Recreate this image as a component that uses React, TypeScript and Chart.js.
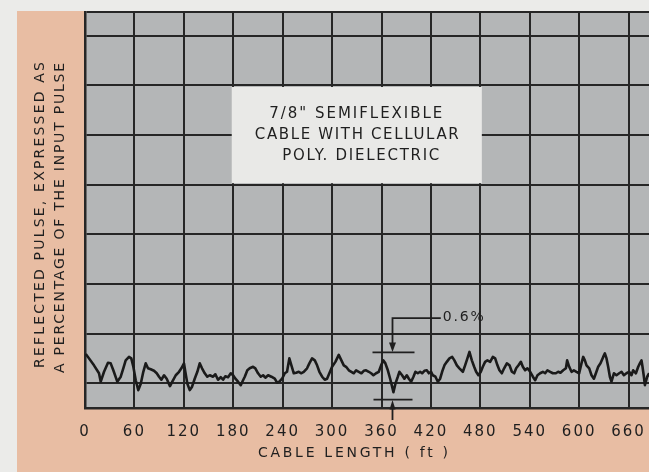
import React, { useEffect, useRef } from "react";
import { Chart, registerables } from "chart.js";

Chart.register(...registerables);

// ---- data ----
const xTickValues = [0, 60, 120, 180, 240, 300, 360, 420, 480, 540, 600, 660];
const yGridDivisions = [0, 1, 2, 3, 4, 5, 6, 7];

// cable length (ft) of each trace sample
const cableLengthFt = [
  0.9, 10.9, 17.0, 19.1, 23.1, 27.9, 31.2, 34.4, 39.2, 43.4, 46.5, 49.4, 53.4, 56.2, 58.7, 61.6, 64.7, 67.7, 70.8, 73.7,
  76.5, 79.8, 83.8, 87.1, 89.9, 92.7, 96.0, 99.2, 103.2, 106.0, 110.2, 114.2,
  117.0, 120.2, 121.8, 124.3, 127.2, 130.0, 133.2, 136.4, 139.3, 142.1, 145.4, 148.5, 151.5, 155.5, 158.3, 161.5, 164.8,
  167.6, 170.4, 173.7, 177.0, 179.8, 182.6, 185.8, 189.1, 191.9, 194.0, 197.1, 200.0, 204.1, 206.8, 210.1, 213.4, 216.2,
  219.0, 222.3, 226.3,
  230.4, 233.2, 236.0, 239.3, 242.6, 245.3, 248.1, 250.6, 253.5, 256.3, 259.6, 262.7, 265.6, 269.6, 272.4, 275.7, 279.0,
  281.8, 284.6, 287.9, 291.1, 293.9, 296.7, 300.0, 304.0, 308.1, 311.3, 314.2, 317.0, 320.3, 323.4, 326.4, 329.2, 332.4,
  335.6, 338.5,
  341.3, 344.6, 347.4, 350.2, 353.4, 356.7, 359.5, 362.3, 364.7, 367.7, 370.5, 372.9, 374.5, 376.9, 379.8, 381.7, 385.0,
  387.8, 390.7, 393.2, 396.0, 398.8, 401.2, 404.1, 406.9, 409.3, 412.1, 415.0, 417.5, 420.2, 422.3, 425.5, 428.4, 431.2,
  433.6, 436.4, 439.3, 442.5, 445.8, 448.5, 451.5, 454.6,
  458.8, 461.5, 464.3, 466.8, 469.7, 472.5, 474.9, 477.7, 480.6, 483.0, 485.8, 488.6, 491.9, 495.2, 498.0, 500.8, 503.2,
  506.1, 508.9, 512.2, 515.4, 518.3, 521.1, 523.5, 526.3, 529.2, 531.6, 534.4, 537.2, 540.5, 543.8, 546.6, 549.4, 552.6,
  555.9, 558.7, 561.5, 564.8, 568.1,
  571.7, 574.5, 577.3, 580.6, 583.9, 585.4, 587.9, 590.7, 593.6, 596.7, 600.0, 602.8, 604.9, 606.9, 608.9, 612.2, 615.0,
  617.9, 620.3, 623.1, 625.9, 629.2, 631.2, 633.2, 635.2, 637.3, 639.2, 642.2, 645.3, 648.6, 651.4, 654.3, 657.4, 660.7,
  663.5, 665.6, 668.9, 671.7, 673.7, 675.7, 676.9, 678.6, 679.8, 682.6, 685.0,
];

// reflected pulse, in grid divisions above the reference line
const reflectionDiv = [
  0.59, 0.36, 0.20, 0.03, 0.23, 0.41, 0.40, 0.26, 0.03, 0.13, 0.30, 0.46, 0.53, 0.50, 0.33, 0.06, -0.14, -0.01, 0.23, 0.40,
  0.30, 0.28, 0.25, 0.20, 0.13, 0.07, 0.16, 0.09, -0.06, 0.03, 0.16, 0.23,
  0.30, 0.40, 0.23, -0.01, -0.14, -0.07, 0.09, 0.23, 0.40, 0.30, 0.20, 0.13, 0.16, 0.13, 0.18, 0.07, 0.12,
  0.07, 0.14, 0.12, 0.20, 0.16, 0.09, 0.03, -0.04, 0.06, 0.13, 0.26, 0.30, 0.33, 0.30, 0.20, 0.13, 0.16,
  0.11, 0.16, 0.13,
  0.09, 0.01, 0.03, 0.09, 0.20, 0.23, 0.50, 0.36, 0.20, 0.21, 0.23, 0.20, 0.23, 0.30, 0.40, 0.50, 0.46,
  0.36, 0.23, 0.13, 0.07, 0.09, 0.20, 0.33, 0.43, 0.57, 0.46, 0.36, 0.33, 0.26, 0.23, 0.20, 0.26, 0.23,
  0.20, 0.25,
  0.26, 0.23, 0.20, 0.16, 0.20, 0.23, 0.36, 0.46, 0.40, 0.26, 0.09, -0.07, -0.18, -0.01, 0.13, 0.23, 0.16,
  0.09, 0.16, 0.09, 0.03, 0.13, 0.23, 0.20, 0.23, 0.20, 0.25, 0.26, 0.20, 0.23, 0.16, 0.13, 0.03, 0.09,
  0.23, 0.36, 0.43, 0.50, 0.53, 0.46, 0.36, 0.30,
  0.23, 0.36, 0.50, 0.63, 0.46, 0.33, 0.23, 0.16, 0.23, 0.33, 0.43, 0.46, 0.43, 0.53, 0.50, 0.36, 0.26,
  0.20, 0.30, 0.40, 0.36, 0.23, 0.20, 0.30, 0.36, 0.43, 0.33, 0.26, 0.30, 0.23, 0.13, 0.06, 0.16, 0.20,
  0.23, 0.20, 0.26, 0.23, 0.20,
  0.20, 0.23, 0.21, 0.26, 0.30, 0.46, 0.33, 0.23, 0.26, 0.23, 0.20, 0.40, 0.53, 0.46, 0.36, 0.30, 0.16,
  0.09, 0.20, 0.33, 0.40, 0.53, 0.60, 0.50, 0.33, 0.13, 0.03, 0.20, 0.16, 0.20, 0.23, 0.16, 0.20, 0.23,
  0.16, 0.26, 0.20, 0.33, 0.40, 0.46, 0.33, 0.13, -0.04, 0.13, 0.20,
];

const boxLines = ['7/8" SEMIFLEXIBLE', "CABLE WITH CELLULAR", "POLY. DIELECTRIC"];
const yTitleLines = ["REFLECTED PULSE, EXPRESSED AS", "A PERCENTAGE OF THE INPUT PULSE"];
const xTitle = "CABLE LENGTH ( ft )";
const annotationLabel = "0.6%";

// annotation anchors, in data units
const boxFt = [180, 480];
const boxDiv = [4, 6];
const markerFt = 373;
const markerTopDiv = 0.62;
const markerBottomDiv = -0.33;
const leaderDiv = 1.31;
const leaderEndFt = 432;

// ---- style ----
const FONT = '"DejaVu Sans", "Liberation Sans", sans-serif';
const INK = "#1f1f1f";
const CANVAS_W = 700;
const CANVAS_H = 472;

function spacedText(ctx: CanvasRenderingContext2D, text: string, cx: number, cy: number, width: number, size: number) {
  ctx.font = `${size}px ${FONT}`;
  (ctx as any).letterSpacing = "0px";
  const w = ctx.measureText(text).width;
  const n = text.length - 1;
  const sp = n > 0 ? (width - w) / n : 0;
  (ctx as any).letterSpacing = `${sp}px`;
  ctx.textAlign = "left";
  ctx.textBaseline = "middle";
  ctx.fillStyle = INK;
  ctx.fillText(text, cx - width / 2, cy);
  (ctx as any).letterSpacing = "0px";
}

const decorPlugin = {
  id: "decor",
  beforeDraw(chart: any) {
    const ctx: CanvasRenderingContext2D = chart.ctx;
    const { left, top, right, bottom } = chart.chartArea;
    ctx.save();
    ctx.fillStyle = "#ebebe9";
    ctx.fillRect(0, 0, chart.width, chart.height);
    ctx.fillStyle = "#e8bda3";
    ctx.fillRect(17, 11, chart.width - 17, chart.height - 11);
    ctx.fillStyle = "#b4b6b7";
    ctx.fillRect(left, top, right - left, bottom - top);
    ctx.restore();
    (ctx as any).letterSpacing = "2px";
  },
  beforeDatasetsDraw(chart: any) {
    const ctx: CanvasRenderingContext2D = chart.ctx;
    const xs = chart.scales.x;
    const ys = chart.scales.y;
    const bl = xs.getPixelForValue(boxFt[0]) - 1.5;
    const br = xs.getPixelForValue(boxFt[1]) + 1.5;
    const bt = ys.getPixelForValue(boxDiv[1]) + 1.5;
    const bb = ys.getPixelForValue(boxDiv[0]) - 1.5;
    ctx.save();
    ctx.fillStyle = "#e9e9e7";
    ctx.fillRect(bl, bt, br - bl, bb - bt);
    const cx = (bl + br) / 2;
    const cy = (bt + bb) / 2;
    spacedText(ctx, boxLines[0], cx - 1, cy - 20.5, 173, 15);
    spacedText(ctx, boxLines[1], cx, cy + 0.5, 204, 15);
    spacedText(ctx, boxLines[2], cx + 4, cy + 21.5, 157, 15);
    ctx.restore();
  },
  afterDraw(chart: any) {
    const ctx: CanvasRenderingContext2D = chart.ctx;
    const xs = chart.scales.x;
    const ys = chart.scales.y;
    const { bottom } = chart.chartArea;
    (ctx as any).letterSpacing = "0px";
    ctx.save();

    // y-axis title (rotated, two lines)
    ctx.save();
    ctx.translate(40, 215);
    ctx.rotate(-Math.PI / 2);
    spacedText(ctx, yTitleLines[0], 0, 0, 306, 14);
    ctx.restore();
    ctx.save();
    ctx.translate(60, 218);
    ctx.rotate(-Math.PI / 2);
    spacedText(ctx, yTitleLines[1], 0, 0, 310, 14);
    ctx.restore();

    // x-axis title
    spacedText(ctx, xTitle, 353, 453, 190, 14);

    // 0.6% annotation
    const px = Math.round(xs.getPixelForValue(markerFt)) + 0.5;
    const topY = ys.getPixelForValue(markerTopDiv);
    const botY = ys.getPixelForValue(markerBottomDiv);
    const leadY = ys.getPixelForValue(leaderDiv);
    const leadX = xs.getPixelForValue(leaderEndFt);
    ctx.strokeStyle = INK;
    ctx.fillStyle = INK;
    ctx.lineWidth = 1.8;
    ctx.beginPath();
    ctx.moveTo(px - 20, topY);
    ctx.lineTo(px + 22, topY);
    ctx.moveTo(px - 19, botY);
    ctx.lineTo(px + 20, botY);
    ctx.moveTo(leadX, leadY);
    ctx.lineTo(px, leadY);
    ctx.lineTo(px, topY - 8);
    ctx.moveTo(px, botY + 8);
    ctx.lineTo(px, bottom + 12);
    ctx.stroke();
    // arrowheads
    ctx.beginPath();
    ctx.moveTo(px, topY - 0.5);
    ctx.lineTo(px - 3.5, topY - 10);
    ctx.lineTo(px + 3.5, topY - 10);
    ctx.closePath();
    ctx.fill();
    ctx.beginPath();
    ctx.moveTo(px, botY + 0.5);
    ctx.lineTo(px - 3, botY + 10);
    ctx.lineTo(px + 3, botY + 10);
    ctx.closePath();
    ctx.fill();
    spacedText(ctx, annotationLabel, leadX + 2 + 41 / 2, leadY - 0.5, 41, 14);
    ctx.restore();
  },
};

export default function App() {
  const canvasRef = useRef<HTMLCanvasElement | null>(null);

  useEffect(() => {
    if (!canvasRef.current) return;
    const points = cableLengthFt.map((x, i) => ({ x, y: reflectionDiv[i] }));
    const chart = new Chart(canvasRef.current, {
      type: "line",
      data: {
        datasets: [
          {
            data: points,
            borderColor: "#1a1a1a",
            borderWidth: 2.6,
            borderJoinStyle: "round",
            pointRadius: 0,
            tension: 0,
            fill: false,
          },
        ],
      },
      options: {
        animation: false,
        responsive: false,
        devicePixelRatio: 1,
        layout: { padding: { left: 85, top: 12, right: CANVAS_W - 678, bottom: 0 } },
        plugins: { legend: { display: false }, tooltip: { enabled: false }, title: { display: false } },
        events: [],
        scales: {
          x: {
            type: "linear",
            min: 0,
            max: 720,
            afterBuildTicks: (scale: any) => {
              scale.ticks = xTickValues.map((v) => ({ value: v }));
            },
            afterFit: (scale: any) => {
              scale.height = 64;
            },
            ticks: {
              autoSkip: false,
              maxRotation: 0,
              minRotation: 0,
              padding: 15,
              color: INK,
              font: { family: FONT, size: 15 },
              callback: (v: any) => String(v),
            },
            grid: { color: "#262626", lineWidth: 2, drawTicks: false },
            border: { display: true, color: "#262626", width: 2.5 },
          },
          y: {
            type: "linear",
            min: -0.5,
            max: 7.48,
            afterBuildTicks: (scale: any) => {
              scale.ticks = [...yGridDivisions, 7.48].map((v) => ({ value: v }));
            },
            afterFit: (scale: any) => {
              scale.width = 0;
            },
            ticks: { display: false },
            grid: { color: "#262626", lineWidth: 2, drawTicks: false },
            border: { display: true, color: "#262626", width: 2.5 },
          },
        },
      },
      plugins: [decorPlugin],
    } as any);
    return () => chart.destroy();
  }, []);

  return (
    <div style={{ position: "fixed", left: 0, top: 0, width: 649, height: 472, overflow: "hidden" }}>
      <canvas ref={canvasRef} width={CANVAS_W} height={CANVAS_H} style={{ display: "block" }} />
    </div>
  );
}
